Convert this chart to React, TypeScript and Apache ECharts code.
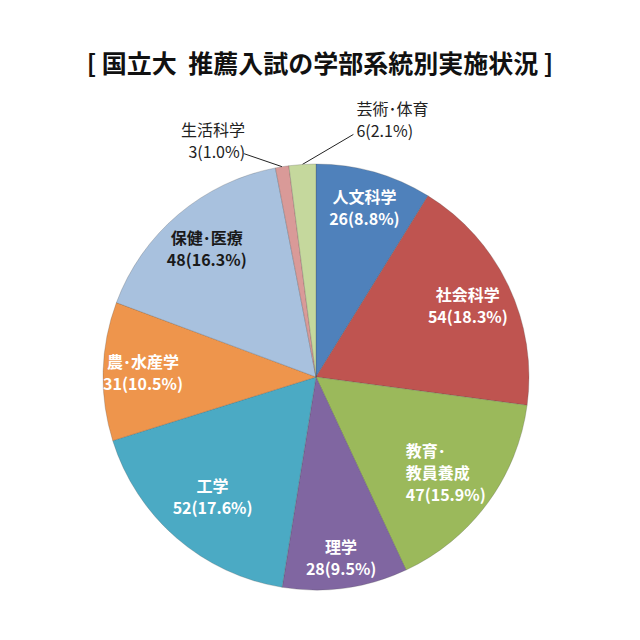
import React, { useEffect, useRef } from "react";
import * as echarts from "echarts";

const titleText = "[ 国立大  推薦入試の学部系統別実施状況 ]";
const categories = [
  "人文科学",
  "社会科学",
  "教育･\n教員養成",
  "理学",
  "工学",
  "農･水産学",
  "保健･医療",
  "生活科学",
  "芸術･体育",
];
const values = [26, 54, 47, 28, 52, 31, 48, 3, 6];
const outsideLabelIndexes = [7, 8];

const sliceColors = [
  "#4F81BB",
  "#BF5450",
  "#9BB95B",
  "#8066A1",
  "#4BAAC4",
  "#EE954C",
  "#A8C1DE",
  "#D99A98",
  "#C5D89D",
];
const insideLabelColors = ["#fff", "#fff", "#fff", "#fff", "#fff", "#fff", "#1a1a1a", "#fff", "#fff"];
// radial distance of each inside label's centre from the pie centre (px)
const insideLabelRadii = [177, 168, 161, 182, 158, 173, 169, 0, 0];
const insideLabelAlign = ["center", "center", "left", "center", "center", "center", "center", "center", "center"];

const FONT = "'Noto Sans CJK JP', 'Noto Sans', sans-serif";

export default function App() {
  const ref = useRef<HTMLDivElement>(null);
  useEffect(() => {
    if (!ref.current) return;
    const chart = echarts.init(ref.current, undefined, { renderer: "svg" });
    const center = [316, 377];
    const R = 213;

    const fmt = (p: any) => `${p.name}\n${p.value}(${Number(p.percent).toFixed(1)}%)`;

    const mainData = categories.map((name, i) => ({
      name,
      value: values[i],
      itemStyle: { color: sliceColors[i] },
      label: { show: outsideLabelIndexes.includes(i) },
      labelLine: { show: outsideLabelIndexes.includes(i) },
    }));

    const ringData = categories.map((name, i) => ({
      name,
      value: values[i],
      label: {
        show: !outsideLabelIndexes.includes(i),
        color: insideLabelColors[i],
      },
    }));

    chart.setOption({
      animation: false,
      title: {
        text: titleText,
        left: "center",
        top: 44,
        textStyle: {
          fontFamily: FONT,
          fontSize: 25,
          fontWeight: "bold",
          color: "#111",
        },
      },
      series: [
        {
          type: "pie",
          center,
          radius: [0, R],
          startAngle: 90,
          percentPrecision: 1,
          avoidLabelOverlap: false,
          itemStyle: { borderColor: "rgba(70,70,70,0.3)", borderWidth: 0.8 },
          label: {
            position: "outside",
            formatter: fmt,
            fontFamily: FONT,
            fontSize: 16,
            lineHeight: 22,
            color: "#222",
          },
          labelLine: {
            lineStyle: { color: "#222", width: 1 },
          },
          labelLayout: (params: any) => {
            const pts = params.labelLinePoints;
            if (!pts || !pts[0]) return {};
            const p0 = pts[0];
            if (params.dataIndex === 8) {
              const end = [p0[0] + 51, p0[1] - 30];
              return {
                x: end[0] + 3,
                y: end[1] + 7,
                align: "left",
                verticalAlign: "bottom",
                labelLinePoints: [p0, end, end],
              };
            }
            if (params.dataIndex === 7) {
              const end = [p0[0] - 38, p0[1] - 13];
              return {
                x: end[0] + 1,
                y: end[1] + 8,
                align: "right",
                verticalAlign: "bottom",
                labelLinePoints: [p0, end, end],
              };
            }
            return {};
          },
          data: mainData,
        },
        {
          type: "pie",
          center,
          radius: [125, R],
          startAngle: 90,
          percentPrecision: 1,
          silent: true,
          avoidLabelOverlap: false,
          itemStyle: { color: "rgba(0,0,0,0)", borderWidth: 0 },
          label: {
            position: "inside",
            formatter: fmt,
            fontFamily: FONT,
            fontSize: 16,
            lineHeight: 22,
            fontWeight: "bold",
          },
          labelLine: { show: false },
          labelLayout: (params: any) => {
            const rect = params.labelRect;
            const rr = insideLabelRadii[params.dataIndex];
            if (!rect || !rr) return {};
            const lx = rect.x + rect.width / 2 - center[0];
            const ly = rect.y + rect.height / 2 - center[1];
            const len = Math.sqrt(lx * lx + ly * ly) || 1;
            const cx = center[0] + (lx / len) * rr;
            const cy = center[1] + (ly / len) * rr;
            const al = insideLabelAlign[params.dataIndex];
            return {
              x: al === "left" ? cx - rect.width / 2 : cx,
              y: cy,
              align: al,
              verticalAlign: "middle",
            };
          },
          data: ringData,
        },
      ],
    });
    return () => chart.dispose();
  }, []);
  return (
    <div
      ref={ref}
      style={{ position: "fixed", left: 0, top: 0, width: 640, height: 640, background: "#fff" }}
    />
  );
}
